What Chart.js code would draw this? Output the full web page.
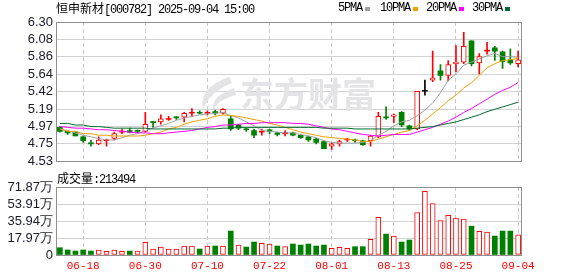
<!DOCTYPE html>
<html>
<head>
<meta charset="utf-8">
<script src="https://cdn.jsdelivr.net/npm/chart.js@4.4.1/dist/chart.umd.min.js"></script>
<style>
  html, body { margin: 0; padding: 0; background: #fff; }
  #wrap { position: relative; width: 578px; height: 276px; overflow: hidden; }
  canvas { position: absolute; left: 0; }
  .t { position: absolute; white-space: nowrap; color: #000; font-size: 12px; line-height: 12px; }
  .cn { font-family: 'Noto Sans CJK SC'; }
  .mono { font-family: 'Liberation Mono'; letter-spacing: -1.2px; }
  .key { position: absolute; top: 7px; width: 5px; height: 4px; }
</style>
</head>
<body>
<div id="wrap">
  <canvas id="kline" width="578" height="172" style="top:0"></canvas>
  <canvas id="volume" width="578" height="104" style="top:172px"></canvas>
  <div class="t" style="left:56px;top:2px"><span class="cn">恒申新材</span><span class="mono">[000782] 2025-09-04 15:00</span></div>
  <div class="t mono" style="left:338px;top:2px">5PMA</div>
  <div class="key" style="left:365px;background:#a0a0a0"></div>
  <div class="t mono" style="left:380px;top:2px">10PMA</div>
  <div class="key" style="left:413px;background:#f0a000"></div>
  <div class="t mono" style="left:426px;top:2px">20PMA</div>
  <div class="key" style="left:459px;background:#ff00ff"></div>
  <div class="t mono" style="left:472px;top:2px">30PMA</div>
  <div class="key" style="left:505px;background:#006b30"></div>
  <div class="t" style="left:57px;top:172px"><span class="cn">成交量</span><span class="mono">:213494</span></div>
</div>
<script>
'use strict';

// 交易日 (06-13 .. 09-04)
const dates = [
  '06-13', '06-16', '06-17', '06-18', '06-19', '06-20', '06-23', '06-24', '06-25', '06-26',
  '06-27', '06-30', '07-01', '07-02', '07-03', '07-04', '07-07', '07-08', '07-09', '07-10',
  '07-11', '07-14', '07-15', '07-16', '07-17', '07-18', '07-21', '07-22', '07-23', '07-24',
  '07-25', '07-28', '07-29', '07-30', '07-31', '08-01', '08-04', '08-05', '08-06', '08-07',
  '08-08', '08-11', '08-12', '08-13', '08-14', '08-15', '08-18', '08-19', '08-20', '08-21',
  '08-22', '08-25', '08-26', '08-27', '08-28', '08-29', '09-01', '09-02', '09-03', '09-04',
];
const axisDates = ['06-18', '06-30', '07-10', '07-22', '08-01', '08-13', '08-25', '09-04'];

const opens = [
  4.96, 4.91, 4.90, 4.84, 4.76, 4.75, 4.79, 4.82, 4.90, 4.92,
  4.92, 4.91, 5.03, 5.03, 5.06, 5.09, 5.09, 5.14, 5.15, 5.14,
  5.16, 5.14, 5.07, 4.99, 4.94, 4.92, 4.90, 4.93, 4.89, 4.88,
  4.89, 4.86, 4.84, 4.81, 4.78, 4.72, 4.75, 4.80, 4.80, 4.79,
  4.79, 4.84, 5.09, 5.10, 5.15, 4.98, 4.94, 5.42, 5.56, 5.68,
  5.62, 5.77, 5.79, 6.06, 5.78, 5.93, 5.97, 5.92, 5.82, 5.77,
];
const highs = [
  4.97, 4.91, 4.90, 4.85, 4.80, 4.84, 4.81, 4.90, 4.94, 4.95,
  4.93, 5.15, 5.03, 5.12, 5.10, 5.10, 5.15, 5.20, 5.17, 5.17,
  5.18, 5.20, 5.10, 5.00, 4.95, 4.94, 4.94, 4.94, 4.90, 4.92,
  4.90, 4.87, 4.85, 4.82, 4.79, 4.76, 4.80, 4.82, 4.81, 4.80,
  4.86, 5.15, 5.22, 5.13, 5.16, 4.99, 5.42, 5.56, 5.93, 5.76,
  5.81, 6.00, 6.17, 6.06, 5.90, 6.04, 5.99, 5.93, 5.96, 5.93,
];
const lows = [
  4.90, 4.87, 4.85, 4.77, 4.72, 4.74, 4.72, 4.80, 4.88, 4.89,
  4.89, 4.90, 4.96, 5.00, 5.05, 5.06, 5.03, 5.10, 5.13, 5.12,
  5.12, 5.13, 4.92, 4.93, 4.91, 4.83, 4.86, 4.88, 4.85, 4.85,
  4.85, 4.82, 4.78, 4.75, 4.69, 4.68, 4.72, 4.78, 4.77, 4.73,
  4.72, 4.83, 5.06, 5.02, 4.97, 4.92, 4.93, 5.37, 5.54, 5.56,
  5.55, 5.67, 5.77, 5.74, 5.64, 5.89, 5.81, 5.71, 5.76, 5.73,
];
const closes = [
  4.91, 4.89, 4.85, 4.79, 4.75, 4.80, 4.80, 4.88, 4.91, 4.90,
  4.91, 5.00, 5.02, 5.07, 5.07, 5.08, 5.14, 5.15, 5.14, 5.15,
  5.14, 5.19, 4.94, 4.95, 4.93, 4.86, 4.91, 4.91, 4.87, 4.89,
  4.86, 4.83, 4.80, 4.77, 4.69, 4.75, 4.78, 4.81, 4.79, 4.74,
  4.85, 5.10, 5.08, 5.12, 4.99, 4.94, 5.42, 5.42, 5.59, 5.62,
  5.76, 5.79, 5.99, 5.77, 5.86, 5.94, 5.93, 5.80, 5.78, 5.82,
];
// 成交量 (手)
const volumes = [
  77000, 53000, 42000, 53000, 42000, 53000, 39000, 53000, 39000, 42000,
  42000, 134000, 63000, 84000, 63000, 63000, 95000, 95000, 63000, 95000,
  95000, 95000, 253000, 105000, 84000, 137000, 123000, 116000, 95000, 88000,
  116000, 105000, 116000, 95000, 105000, 70000, 81000, 70000, 88000, 88000,
  165000, 397000, 221000, 200000, 137000, 158000, 449000, 673000, 544000, 365000,
  418000, 389000, 379000, 305000, 249000, 242000, 200000, 253000, 253000, 213494,
];

const ma5 = [
  4.94, 4.92, 4.89, 4.86, 4.84, 4.82, 4.80, 4.80, 4.83, 4.86,
  4.88, 4.92, 4.95, 4.98, 5.01, 5.05, 5.08, 5.10, 5.12, 5.13,
  5.14, 5.15, 5.11, 5.08, 5.03, 4.98, 4.92, 4.91, 4.90, 4.89,
  4.89, 4.87, 4.85, 4.83, 4.79, 4.77, 4.76, 4.76, 4.76, 4.77,
  4.79, 4.86, 4.91, 4.98, 5.03, 5.05, 5.11, 5.18, 5.27, 5.40,
  5.56, 5.64, 5.75, 5.79, 5.83, 5.87, 5.90, 5.86, 5.86, 5.85,
];
const ma10 = [
  4.94, 4.91, 4.91, 4.88, 4.88, 4.86, 4.86, 4.85, 4.85, 4.85,
  4.85, 4.86, 4.88, 4.90, 4.94, 4.96, 5.00, 5.03, 5.05, 5.07,
  5.10, 5.12, 5.11, 5.10, 5.08, 5.06, 5.04, 5.01, 4.99, 4.96,
  4.93, 4.90, 4.88, 4.86, 4.84, 4.83, 4.82, 4.81, 4.80, 4.78,
  4.78, 4.81, 4.84, 4.87, 4.90, 4.92, 4.98, 5.05, 5.13, 5.21,
  5.30, 5.37, 5.46, 5.53, 5.62, 5.72, 5.77, 5.81, 5.82, 5.84,
];
const ma20 = [
  4.97, 4.96, 4.95, 4.95, 4.94, 4.93, 4.93, 4.92, 4.91, 4.90,
  4.89, 4.89, 4.88, 4.88, 4.89, 4.90, 4.91, 4.92, 4.94, 4.96,
  4.97, 4.99, 4.99, 5.00, 5.01, 5.01, 5.02, 5.02, 5.02, 5.02,
  5.01, 5.01, 5.00, 4.98, 4.96, 4.94, 4.93, 4.91, 4.89, 4.87,
  4.86, 4.85, 4.86, 4.87, 4.87, 4.87, 4.90, 4.93, 4.96, 5.00,
  5.04, 5.09, 5.15, 5.20, 5.26, 5.32, 5.38, 5.43, 5.47, 5.53,
];
const ma30 = [
  5.01, 5.01, 4.99, 4.99, 4.97, 4.97, 4.96, 4.95, 4.95, 4.95,
  4.95, 4.95, 4.94, 4.94, 4.94, 4.94, 4.94, 4.94, 4.94, 4.94,
  4.94, 4.95, 4.95, 4.96, 4.96, 4.96, 4.96, 4.96, 4.96, 4.96,
  4.96, 4.96, 4.96, 4.96, 4.95, 4.95, 4.95, 4.95, 4.94, 4.94,
  4.94, 4.94, 4.94, 4.94, 4.94, 4.94, 4.95, 4.96, 4.97, 4.99,
  5.01, 5.03, 5.06, 5.09, 5.12, 5.16, 5.19, 5.22, 5.25, 5.28,
];

const priceMin = 4.53;
const priceMax = 6.30;
const priceTickLabels = ['4.53', '4.75', '4.97', '5.19', '5.42', '5.64', '5.86', '6.08', '6.30'];
const volumeMax = 718700;
const volumeTickLabels = ['0', '17.97万', '35.94万', '53.91万', '71.87万'];

const RED = '#ff0000';
const GREEN = '#008000';
const BLACK = '#000000';
const GRID = '#d2d2d2';
const FRAME = '#909090';
const MARK = '#e4e4e6';

// Farbe nach Schluss/Eröffnung, bei Gleichstand nach Vortagesschluss
const candleColor = i => {
  if (closes[i] > opens[i]) return RED;
  if (closes[i] < opens[i]) return GREEN;
  const prev = i > 0 ? closes[i - 1] : opens[i];
  if (closes[i] > prev) return RED;
  if (closes[i] < prev) return GREEN;
  return BLACK;
};
const hollow = i => closes[i] - opens[i] >= 0.02;
const volumeUp = i => closes[i] >= (i > 0 ? closes[i - 1] : opens[i]);

const isAxisDate = i => axisDates.includes(dates[i]);

const frame = {
  id: 'frame',
  afterDraw(chart) {
    const { ctx, chartArea: a } = chart;
    ctx.save();
    ctx.strokeStyle = FRAME;
    ctx.lineWidth = 1;
    ctx.strokeRect(Math.round(a.left) + 0.5, Math.round(a.top) + 0.5,
      Math.round(a.right - a.left) - 1, Math.round(a.bottom - a.top));
    ctx.restore();
  },
};

// Wasserzeichen: Logo + Schriftzug
const watermark = {
  id: 'watermark',
  beforeDatasetsDraw(chart) {
    const ctx = chart.ctx;
    ctx.save();
    ctx.fillStyle = MARK;
    ctx.beginPath();
    ctx.moveTo(229, 77);
    ctx.quadraticCurveTo(198, 88, 203, 110);
    ctx.quadraticCurveTo(209, 92, 232, 83);
    ctx.closePath();
    ctx.fill();
    ctx.beginPath();
    ctx.moveTo(234, 88);
    ctx.quadraticCurveTo(211, 96, 213, 110);
    ctx.quadraticCurveTo(219, 99, 236, 95);
    ctx.closePath();
    ctx.fill();
    ctx.font = 'bold 34px "Noto Sans CJK SC"';
    ctx.textBaseline = 'middle';
    ctx.fillText('东方财富', 240, 94);
    ctx.restore();
  },
};

const xGrid = {
  color: ctx => (isAxisDate(ctx.index) ? '#c8c8c8' : 'rgba(0,0,0,0)'),
  offset: false,
  drawTicks: false,
  lineWidth: 1,
};

// K-Linie
new Chart(document.getElementById('kline'), {
  data: {
    labels: dates,
    datasets: [
      { type: 'line', data: ma30, borderColor: '#006b30', borderWidth: 1, pointRadius: 0, order: 1 },
      { type: 'line', data: ma20, borderColor: '#ff00ff', borderWidth: 1, pointRadius: 0, order: 1 },
      { type: 'line', data: ma10, borderColor: '#f0a000', borderWidth: 1, pointRadius: 0, order: 1 },
      { type: 'line', data: ma5, borderColor: '#a0a0a0', borderWidth: 1, pointRadius: 0, order: 1 },
      {
        type: 'bar',
        data: lows.map((l, i) => [l, highs[i]]),
        backgroundColor: ctx => candleColor(ctx.dataIndex),
        barThickness: 1,
        grouped: false,
        order: 3,
      },
      {
        type: 'bar',
        data: opens.map((o, i) => [o, closes[i]]),
        backgroundColor: ctx => (hollow(ctx.dataIndex) ? '#ffffff' : candleColor(ctx.dataIndex)),
        borderColor: ctx => candleColor(ctx.dataIndex),
        borderWidth: ctx => (hollow(ctx.dataIndex) ? 1 : 0),
        borderSkipped: false,
        barThickness: 5,
        minBarLength: 1,
        grouped: false,
        order: 2,
      },
    ],
  },
  options: {
    responsive: false,
    animation: false,
    events: [],
    devicePixelRatio: 1,
    layout: { padding: { top: 22, right: 56, bottom: 7, left: 0 } },
    plugins: { legend: { display: false }, tooltip: { enabled: false } },
    scales: {
      x: {
        offset: true,
        grid: xGrid,
        border: { display: false, dash: [4, 3] },
        ticks: { display: false, autoSkip: false },
        afterFit: scale => { scale.height = 0; },
      },
      y: {
        min: priceMin,
        max: priceMax,
        afterBuildTicks: scale => {
          scale.ticks = priceTickLabels.map((_, i) => ({
            value: priceMin + ((priceMax - priceMin) * i) / (priceTickLabels.length - 1),
          }));
        },
        afterFit: scale => { scale.width = 56; },
        grid: { color: GRID, drawTicks: false },
        border: { display: false },
        ticks: {
          autoSkip: false,
          padding: 3,
          color: '#1a1a2a',
          font: { family: 'Liberation Sans', size: 13 },
          callback: (v, i) => priceTickLabels[i],
        },
      },
    },
  },
  plugins: [watermark, frame],
});

// Volumen
new Chart(document.getElementById('volume'), {
  type: 'bar',
  data: {
    labels: dates,
    datasets: [
      {
        data: volumes,
        backgroundColor: ctx => (volumeUp(ctx.dataIndex) ? '#ffffff' : GREEN),
        borderColor: ctx => (volumeUp(ctx.dataIndex) ? RED : GREEN),
        borderWidth: ctx => (volumeUp(ctx.dataIndex) ? 1 : 0),
        borderSkipped: false,
        barThickness: 5,
      },
    ],
  },
  options: {
    responsive: false,
    animation: false,
    events: [],
    devicePixelRatio: 1,
    layout: { padding: { top: 15, right: 56, bottom: 0, left: 0 } },
    plugins: { legend: { display: false }, tooltip: { enabled: false } },
    scales: {
      x: {
        offset: true,
        grid: xGrid,
        border: { display: false, dash: [4, 3] },
        afterFit: scale => { scale.height = 21; },
        ticks: {
          autoSkip: false,
          maxRotation: 0,
          padding: 4,
          color: RED,
          font: { family: 'Liberation Mono', size: 11 },
          callback: (v, i) => (isAxisDate(i) ? dates[i] : ''),
        },
      },
      y: {
        min: 0,
        max: volumeMax,
        afterBuildTicks: scale => {
          scale.ticks = volumeTickLabels.map((_, i) => ({
            value: (volumeMax * i) / (volumeTickLabels.length - 1),
          }));
        },
        afterFit: scale => { scale.width = 56; },
        grid: { color: GRID, drawTicks: false },
        border: { display: false },
        ticks: {
          autoSkip: false,
          padding: 3,
          color: '#1a1a2a',
          font: { family: 'Liberation Sans', size: 13 },
          callback: (v, i) => volumeTickLabels[i],
        },
      },
    },
  },
  plugins: [frame],
});
</script>
</body>
</html>
